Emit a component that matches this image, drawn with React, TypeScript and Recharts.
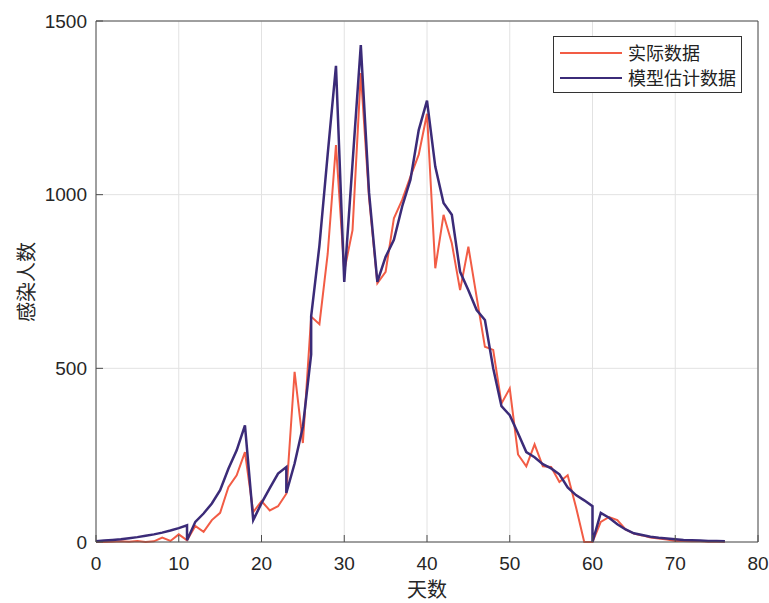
import React from 'react';
import { LineChart, Line, XAxis, YAxis, CartesianGrid, Legend } from 'recharts';

// 实际数据 (actual), days 0..76
const actualDays: number[] = [
  0, 1, 2, 3, 4, 5, 6, 7, 8, 9, 10, 11, 12, 13, 14, 15, 16, 17, 18, 19,
  20, 21, 22, 23, 24, 25, 26, 27, 28, 29, 30, 31, 32, 33, 34, 35, 36, 37, 38, 39,
  40, 41, 42, 43, 44, 45, 46, 47, 48, 49, 50, 51, 52, 53, 54, 55, 56, 57, 58, 59,
  60, 61, 62, 63, 64, 65, 66, 67, 68, 69, 70, 71, 72, 73, 74, 75, 76,
];
const actualValues: number[] = [
  0, 0, 1, 2, 1, 3, 0, 2, 13, 3, 22, 5, 46, 29, 63, 84, 158, 192, 259, 86,
  118, 91, 103, 139, 490, 285, 649, 627, 830, 1143, 780, 898, 1350, 990, 745, 778, 932, 985, 1052, 1115,
  1233, 788, 942, 860, 725, 850, 705, 562, 553, 399, 442, 252, 218, 281, 218, 216, 173, 192, 101, 0,
  0, 58, 72, 63, 36, 24, 19, 13, 10, 7, 3, 3, 2, 2, 1, 1, 1,
];

// 模型估计数据 (model), piecewise segments restart at days 11, 23, 26, 60
const modelDays: number[] = [
  0, 1, 2, 3, 4, 5, 6, 7, 8, 9, 10, 11, 11, 12, 13, 14, 15, 16, 17, 18, 19,
  20, 21, 22, 23, 23, 24, 25, 26, 26, 27, 28, 29, 30, 31, 32, 33, 34, 35, 36, 37, 38, 39,
  40, 41, 42, 43, 44, 45, 46, 47, 48, 49, 50, 51, 52, 53, 54, 55, 56, 57, 58, 59,
  60, 60, 61, 62, 63, 64, 65, 66, 67, 68, 69, 70, 71, 72, 73, 74, 75, 76,
];
const modelValues: number[] = [
  2, 4, 6, 8, 11, 14, 18, 22, 27, 33, 40, 48, 5, 58, 82, 111, 149, 211, 264, 336, 63,
  112, 155, 197, 216, 141, 226, 332, 540, 650, 853, 1117, 1371, 749, 1090, 1431, 1005, 749, 821, 870, 966, 1043, 1186,
  1271, 1081, 976, 942, 778, 725, 668, 639, 500, 391, 365, 313, 259, 244, 224, 212, 195, 157, 135, 120,
  103, 0, 84, 70, 51, 36, 25, 20, 15, 12, 10, 8, 6, 5, 4, 3, 3, 2,
];

const xTicks: number[] = [0, 10, 20, 30, 40, 50, 60, 70, 80];
const yTicks: number[] = [0, 500, 1000, 1500];

const seriesNames = ['实际数据', '模型估计数据'];
const RED = '#F25C45';
const BLUE = '#3B2B78';

const actualData = actualDays.map((d, i) => ({ x: d, y: actualValues[i] }));
const modelData = modelDays.map((d, i) => ({ x: d, y: modelValues[i] }));

const NUM_FONT = '"Liberation Sans", Arial, sans-serif';
const CJK_FONT = '"Noto Sans CJK SC", sans-serif';

const renderLegend = () => (
  <div
    style={{
      width: 187,
      height: 55,
      border: '1px solid #333',
      background: '#fff',
      fontFamily: CJK_FONT,
      fontSize: 18,
      color: '#222',
      position: 'relative',
    }}
  >
    {[RED, BLUE].map((c, i) => (
      <div
        key={i}
        style={{
          position: 'absolute',
          left: 6,
          top: 3 + i * 25,
          height: 25,
          display: 'flex',
          alignItems: 'center',
          whiteSpace: 'nowrap',
        }}
      >
        <svg width={62} height={4} style={{ marginRight: 6 }}>
          <line x1={0} y1={2} x2={62} y2={2} stroke={c} strokeWidth={2} />
        </svg>
        <span style={{ lineHeight: '25px' }}>{seriesNames[i]}</span>
      </div>
    ))}
  </div>
);

export default function App() {
  return (
    <div style={{ position: 'absolute', left: 0, top: 0, width: 769, height: 603, background: '#fff' }}>
      <LineChart
        width={769}
        height={603}
        margin={{ top: 20, right: 10, bottom: 0, left: 0 }}
      >
        <CartesianGrid stroke="#E2E2E2" strokeWidth={1} verticalPoints={undefined} />
        <XAxis
          dataKey="x"
          type="number"
          domain={[0, 80]}
          ticks={xTicks}
          allowDuplicatedCategory
          height={61}
          stroke="#4D4D4D"
          tickSize={-7}
          tickMargin={22}
          tick={{ fill: '#262626', fontSize: 19, fontFamily: NUM_FONT }}
          label={{
            value: '天数',
            position: 'insideBottom',
            offset: 6,
            style: { fontFamily: CJK_FONT, fontSize: 20, fill: '#262626' },
          }}
        />
        <XAxis
          xAxisId="top"
          orientation="top"
          type="number"
          domain={[0, 80]}
          ticks={xTicks}
          height={1}
          stroke="#4D4D4D"
          tickSize={-7}
          tick={false}
        />
        <YAxis
          type="number"
          domain={[0, 1500]}
          ticks={yTicks}
          width={96}
          stroke="#4D4D4D"
          tickSize={-7}
          tickMargin={16}
          tick={{ fill: '#262626', fontSize: 19, fontFamily: NUM_FONT }}
          label={{
            content: () => (
              <text
                x={25}
                y={282}
                transform="rotate(-90 25 282)"
                textAnchor="middle"
                dominantBaseline="central"
                style={{ fontFamily: CJK_FONT, fontSize: 20, fill: '#262626' }}
              >
                感染人数
              </text>
            ),
          }}
        />
        <YAxis
          yAxisId="right"
          orientation="right"
          type="number"
          domain={[0, 1500]}
          ticks={yTicks}
          width={1}
          stroke="#4D4D4D"
          tickSize={-7}
          tick={false}
        />
        <Legend
          layout="horizontal"
          verticalAlign="middle"
          align="center"
          content={renderLegend}
          wrapperStyle={{ left: 553, top: 36, width: 189, height: 57 }}
        />
        <Line
          data={actualData}
          dataKey="y"
          name={seriesNames[0]}
          type="linear"
          stroke={RED}
          strokeWidth={2}
          dot={false}
          activeDot={false}
          isAnimationActive={false}
        />
        <Line
          data={modelData}
          dataKey="y"
          name={seriesNames[1]}
          type="linear"
          stroke={BLUE}
          strokeWidth={2.5}
          dot={false}
          activeDot={false}
          isAnimationActive={false}
        />
      </LineChart>
    </div>
  );
}
